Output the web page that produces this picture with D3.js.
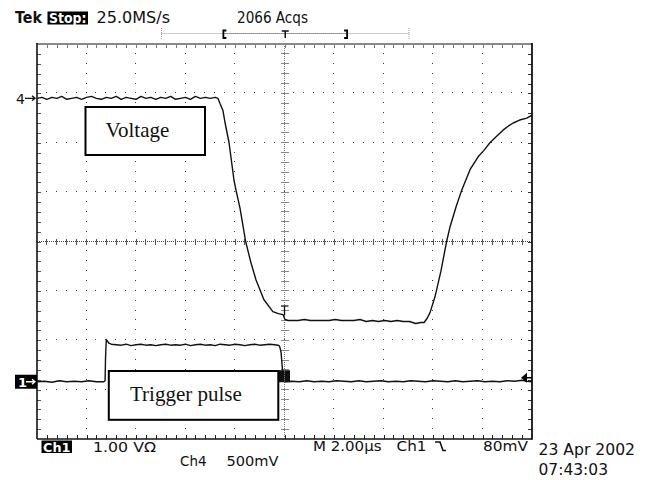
<!DOCTYPE html>
<html><head><meta charset="utf-8">
<script src="https://cdn.jsdelivr.net/npm/d3@7"></script>
<style>
html,body{margin:0;padding:0;background:#fff;}
svg{display:block;}
text{font-family:"DejaVu Sans",sans-serif;fill:#111;}
</style></head><body>
<svg id="scope" width="653" height="480"></svg>
<script>
// Horizontal: 2.00 µs/div over 10 divisions, trigger at centre
const timeDomain = [-10, 10];
// Vertical: 8 divisions
const divDomain = [-4, 4];

// Channel settings
const ch4VoltsPerDiv = 0.5, ch4OffsetDiv = 2.9;
const ch1VoltsPerDiv = 1.0, ch1OffsetDiv = -2.84;
const ch1TriggerLevel = 0.08;

// Ch4 voltage trace, [µs, V]
const ch4Trace = [
  [-10,0.00],[-9.8,0.01],[-9.6,-0.01],[-9.4,0.01],[-9.2,0.00],[-9.0,0.02],[-8.8,-0.01],[-8.6,0.00],
  [-8.4,0.01],[-8.2,-0.01],[-8.0,0.01],[-7.8,0.02],[-7.6,0.00],[-7.4,-0.01],[-7.2,0.01],[-7.0,0.00],
  [-6.8,0.02],[-6.6,-0.01],[-6.4,0.01],[-6.2,0.00],[-6.0,-0.01],[-5.8,0.02],[-5.6,0.00],[-5.4,0.01],
  [-5.2,-0.01],[-5.0,0.01],[-4.8,0.00],[-4.6,0.02],[-4.4,-0.01],[-4.2,0.00],[-4.0,0.01],[-3.8,-0.01],
  [-3.6,0.02],[-3.4,0.00],[-3.2,0.01],[-3.0,0.00],[-2.8,0.01],
  [-2.69,0.00],[-2.61,-0.05],[-2.49,-0.12],[-2.40,-0.25],[-2.24,-0.45],[-2.04,-0.83],[-1.96,-0.93],
  [-1.80,-1.11],[-1.57,-1.45],[-1.36,-1.66],[-1.15,-1.84],[-0.83,-2.04],[-0.47,-2.16],[-0.25,-2.18],
  [-0.06,-2.19],[0.02,-2.24],[0.15,-2.25],
  [0.3,-2.25],[0.55,-2.25],[0.8,-2.24],[1.05,-2.25],[1.3,-2.25],[1.55,-2.25],[1.8,-2.25],[2.05,-2.24],
  [2.3,-2.25],[2.55,-2.25],[2.8,-2.25],[3.05,-2.24],[3.3,-2.26],[3.55,-2.25],[3.8,-2.26],[4.05,-2.25],
  [4.3,-2.26],[4.55,-2.25],[4.8,-2.26],[5.05,-2.26],[5.3,-2.28],[5.5,-2.27],[5.64,-2.27],
  [5.76,-2.23],[5.88,-2.17],[6.08,-2.01],[6.32,-1.75],[6.55,-1.45],[6.69,-1.30],[6.93,-1.10],
  [7.16,-0.93],[7.50,-0.72],[7.83,-0.59],[8.05,-0.53],[8.30,-0.45],[8.55,-0.39],[8.84,-0.32],
  [9.05,-0.28],[9.24,-0.25],[9.50,-0.22],[9.79,-0.20],[10.0,-0.17]
];

// Ch1 trigger pulse, [µs, V]
const ch1Trace = [
  [-10,0],[-9.7,0.01],[-9.4,-0.01],[-9.1,0.02],[-8.8,0],[-8.5,0.01],[-8.2,0],[-7.9,0.02],[-7.6,0],[-7.3,0],
  [-7.25,0.02],[-7.23,0.5],[-7.2,0.85],[-7.16,0.83],[-7.1,0.78],[-7.0,0.76],
  [-6.8,0.75],[-6.6,0.74],[-6.4,0.76],[-6.2,0.73],[-6.0,0.75],[-5.8,0.76],[-5.6,0.74],[-5.4,0.75],
  [-5.2,0.73],[-5.0,0.75],[-4.8,0.76],[-4.6,0.74],[-4.4,0.75],[-4.2,0.74],[-4.0,0.76],[-3.8,0.73],
  [-3.6,0.75],[-3.4,0.76],[-3.2,0.74],[-3.0,0.75],[-2.8,0.73],[-2.6,0.76],[-2.4,0.75],[-2.2,0.74],
  [-2.0,0.76],[-1.8,0.75],[-1.6,0.73],[-1.4,0.75],[-1.2,0.76],[-1.0,0.74],[-0.8,0.75],[-0.6,0.76],[-0.4,0.75],
  [-0.26,0.74],[-0.2,0.72],[-0.14,0.6],[-0.1,0.35],[-0.06,0.12],[-0.02,0.02],[0,0],
  [0.3,0.01],[0.6,0],[0.9,0.02],[1.2,0],[1.5,0.01],[1.8,0],[2.1,0.02],[2.4,0.01],[2.7,0],[3.0,0.02],
  [3.3,0],[3.6,0.01],[3.9,0.02],[4.2,0],[4.5,0.01],[4.8,0],[5.1,0.02],[5.4,0.01],[5.7,0],[6.0,0.02],
  [6.3,0.01],[6.6,0],[6.9,0.02],[7.2,0],[7.5,0.01],[7.8,0.02],[8.1,0],[8.4,0.01],[8.7,0],[9.0,0.02],
  [9.3,0.01],[9.6,0.03],[9.8,0.01],[10,0]
];

// Record window in the top bar (fractions of record length)
const recordWindow = [0.25, 0.75];
const recordTrigger = 0.5;

const svg = d3.select("#scope");
const x = d3.scaleLinear().domain(timeDomain).range([37, 532]);
const y = d3.scaleLinear().domain(divDomain).range([439, 44]);
const ch4Y = v => y(ch4OffsetDiv + v / ch4VoltsPerDiv);
const ch1Y = v => y(ch1OffsetDiv + v / ch1VoltsPerDiv);

// ---- graticule ----
const majorT = d3.range(-8, 8.01, 2).filter(t => Math.abs(t) > 1e-9);
const majorD = d3.range(-3, 3.01, 1).filter(d => Math.abs(d) > 1e-9);
const minorT = d3.range(1, 50).map(i => -10 + i * 0.4);
const minorD = d3.range(1, 40).map(i => -4 + i * 0.2);

const grid = svg.append("g").attr("shape-rendering", "crispEdges");
const dots = [];
majorT.forEach(t => minorD.forEach(d => dots.push([t, d])));
majorD.forEach(d => minorT.forEach(t => dots.push([t, d])));
grid.selectAll("rect.dot").data(dots).join("rect")
  .attr("class", "dot")
  .attr("x", d => Math.round(x(d[0])) - 1).attr("y", d => Math.round(y(d[1])) - 1)
  .attr("width", 1.3).attr("height", 1.3).attr("fill", "#3a3a3a");

// centre cross with dense dots and minor tick marks
grid.append("line").attr("x1", x(-10)).attr("x2", x(10)).attr("y1", y(0)).attr("y2", y(0))
  .attr("stroke", "#444").attr("stroke-dasharray", "1,1");
grid.append("line").attr("x1", x(0)).attr("x2", x(0)).attr("y1", y(-4)).attr("y2", y(4))
  .attr("stroke", "#777").attr("stroke-dasharray", "1,1");
grid.selectAll("line.ht").data(minorT).join("line").attr("class", "ht")
  .attr("x1", d => x(d)).attr("x2", d => x(d)).attr("y1", y(0) - 3).attr("y2", y(0) + 3)
  .attr("stroke", "#555");
grid.selectAll("line.vt").data(minorD).join("line").attr("class", "vt")
  .attr("y1", d => y(d)).attr("y2", d => y(d)).attr("x1", x(0) - 4).attr("x2", x(0) + 4)
  .attr("stroke", "#888");

// border ticks drawn with axes, pointing inward
function edge(axis, tx, ty, vals, colour) {
  const g = svg.append("g").attr("transform", `translate(${tx},${ty})`)
    .call(axis.tickValues(vals).tickSize(-4).tickFormat(""));
  g.select(".domain").remove();
  g.selectAll(".tick line").attr("stroke", colour).attr("shape-rendering", "crispEdges");
}
edge(d3.axisTop(x), 0, y(4), minorT, "#777");
edge(d3.axisBottom(x), 0, y(-4), minorT, "#222");
edge(d3.axisLeft(y), x(-10), 0, minorD, "#555");
edge(d3.axisRight(y), x(10), 0, minorD, "#333");

// border
svg.append("line").attr("x1", x(-10)).attr("x2", x(10)).attr("y1", y(4)).attr("y2", y(4))
  .attr("stroke", "#8a8a8a").attr("stroke-width", 2);
svg.append("line").attr("x1", x(-10)).attr("x2", x(10)).attr("y1", y(-4)).attr("y2", y(-4))
  .attr("stroke", "#111").attr("stroke-width", 1.6);
svg.append("line").attr("x1", x(-10)).attr("x2", x(-10)).attr("y1", y(4) - 1).attr("y2", y(-4))
  .attr("stroke", "#111").attr("stroke-width", 1.6);
svg.append("line").attr("x1", x(10)).attr("x2", x(10)).attr("y1", y(4) - 1).attr("y2", y(-4) + 0.8)
  .attr("stroke", "#111").attr("stroke-width", 1.8);

// ---- traces ----
const line4 = d3.line().x(d => x(d[0])).y(d => ch4Y(d[1]));
const line1 = d3.line().x(d => x(d[0])).y(d => ch1Y(d[1]));
svg.append("path").datum(ch4Trace).attr("d", line4)
  .attr("fill", "none").attr("stroke", "#111").attr("stroke-width", 1.4).attr("stroke-linejoin", "round");
svg.append("path").datum(ch1Trace).attr("d", line1)
  .attr("fill", "none").attr("stroke", "#111").attr("stroke-width", 1.4).attr("stroke-linejoin", "round");

// ---- annotation boxes ----
svg.append("rect").attr("x", 85.5).attr("y", 107).attr("width", 119.5).attr("height", 48)
  .attr("fill", "#fff").attr("stroke", "#000").attr("stroke-width", 2);
svg.append("text").attr("x", 105.5).attr("y", 137)
  .style("font-family", "'Liberation Serif','Times New Roman',serif").style("font-size", "21px")
  .text("Voltage");

// trigger point marker block beside the pulse box
svg.append("rect").attr("x", x(0) - 6.5).attr("y", ch1Y(0) - 11.5).attr("width", 12).attr("height", 12)
  .attr("fill", "#111");
svg.append("line").attr("x1", x(0)).attr("x2", x(0)).attr("y1", ch1Y(0) - 11).attr("y2", ch1Y(0))
  .attr("stroke", "#888").attr("stroke-dasharray", "1,1");

svg.append("rect").attr("x", 108.8).attr("y", 371).attr("width", 169.5).attr("height", 48.8)
  .attr("fill", "#fff").attr("stroke", "#000").attr("stroke-width", 2);
svg.append("text").attr("x", 130).attr("y", 401)
  .style("font-family", "'Liberation Serif','Times New Roman',serif").style("font-size", "21px")
  .text("Trigger pulse");

// trigger "T" on the Ch4 trace
const tT = svg.append("g").attr("stroke", "#111").attr("stroke-width", 1.3);
tT.append("line").attr("x1", x(0) - 3.5).attr("x2", x(0) + 4).attr("y1", 306).attr("y2", 306);
tT.append("line").attr("x1", x(0)).attr("x2", x(0)).attr("y1", 306).attr("y2", ch4Y(-2.2));

// ---- channel ground markers ----
svg.append("text").attr("x", 16).attr("y", ch4Y(0) + 5.5).style("font-size", "14px").text("4");
svg.append("path")
  .attr("d", `M25,${ch4Y(0)}H35M32,${ch4Y(0) - 2.5}L35,${ch4Y(0)}L32,${ch4Y(0) + 2.5}`)
  .attr("fill", "none").attr("stroke", "#111").attr("stroke-width", 1.3);

svg.append("rect").attr("x", 15).attr("y", ch1Y(0) - 7).attr("width", 22).attr("height", 14).attr("fill", "#000");
svg.append("text").attr("x", 18).attr("y", ch1Y(0) + 5).style("font-size", "13px").style("font-weight", "bold")
  .style("fill", "#fff").text("1");
svg.append("path")
  .attr("d", `M26,${ch1Y(0)}H35M32,${ch1Y(0) - 2.5}L35,${ch1Y(0)}L32,${ch1Y(0) + 2.5}`)
  .attr("fill", "none").attr("stroke", "#fff").attr("stroke-width", 1.3);

// Ch1 trigger level marker on the right edge
const ty = ch1Y(ch1TriggerLevel);
svg.append("path").attr("d", `M521,${ty}L527,${ty - 5}L527,${ty + 5}Z`).attr("fill", "#000");
svg.append("line").attr("x1", 526).attr("x2", 532).attr("y1", ty).attr("y2", ty)
  .attr("stroke", "#000").attr("stroke-width", 1.5);

// ---- record bar at the top ----
const rec = d3.scaleLinear().domain([0, 1]).range([161.5, 409]);
const bar = svg.append("g");
bar.append("line").attr("x1", rec(0)).attr("x2", rec(1)).attr("y1", 33.5).attr("y2", 33.5)
  .attr("stroke", "#999").attr("stroke-dasharray", "1,1");
bar.append("line").attr("x1", rec(recordWindow[0])).attr("x2", rec(recordWindow[1])).attr("y1", 33.5).attr("y2", 33.5)
  .attr("stroke", "#666").attr("stroke-dasharray", "1,1");
[0, 1].forEach(f => bar.append("line").attr("x1", rec(f)).attr("x2", rec(f)).attr("y1", 28).attr("y2", 39)
  .attr("stroke", "#999").attr("stroke-dasharray", "1,1"));
bar.append("path")
  .attr("d", `M${rec(recordWindow[0]) + 3},30.5H${rec(recordWindow[0])}V38H${rec(recordWindow[0]) + 3}`)
  .attr("fill", "none").attr("stroke", "#000").attr("stroke-width", 1.8);
bar.append("path")
  .attr("d", `M${rec(recordWindow[1]) - 3},30.5H${rec(recordWindow[1])}V38H${rec(recordWindow[1]) - 3}`)
  .attr("fill", "none").attr("stroke", "#000").attr("stroke-width", 1.8);
bar.append("path")
  .attr("d", `M${rec(recordTrigger) - 3.5},31H${rec(recordTrigger) + 3.5}M${rec(recordTrigger)},31V38`)
  .attr("fill", "none").attr("stroke", "#111").attr("stroke-width", 1.5);

// ---- readouts ----
function label(str, x0, x1, base, opts = {}) {
  const t = svg.append("text").attr("x", x0).attr("y", base)
    .attr("textLength", x1 - x0).attr("lengthAdjust", "spacingAndGlyphs")
    .style("font-size", (opts.size || 14) + "px").text(str);
  if (opts.bold) t.style("font-weight", "bold");
  if (opts.fill) t.style("fill", opts.fill);
  return t;
}
label("Tek", 15, 42, 22.5, { bold: true, size: 15 });
svg.append("rect").attr("x", 47.5).attr("y", 11.5).attr("width", 40.5).attr("height", 13).attr("fill", "#000");
label("Stop:", 49, 86.5, 22.5, { bold: true, fill: "#fff", size: 14 });
label("25.0MS/s", 96.5, 170, 22.5, { size: 15 });
label("2066 Acqs", 237, 308, 22.5, { size: 15 });

svg.append("rect").attr("x", 41.5).attr("y", 440.5).attr("width", 30.5).attr("height", 12.5).attr("fill", "#000");
label("Ch1", 43, 70.5, 451.5, { bold: true, fill: "#fff", size: 13 });
label("1.00 VΩ", 93, 156, 451.5);
label("Ch4", 180, 206.5, 466);
label("500mV", 226.5, 278.5, 466);
label("M 2.00µs", 313, 381.5, 451);
label("Ch1", 396.5, 426.5, 451);
svg.append("path").attr("d", "M435,442H440L443,450.5H446")
  .attr("fill", "none").attr("stroke", "#111").attr("stroke-width", 1.6);
label("80mV", 483, 528, 451);
label("23 Apr 2002", 538.5, 635, 455, { size: 15 });
label("07:43:03", 538.5, 608, 475, { size: 15 });
</script>
</body></html>
